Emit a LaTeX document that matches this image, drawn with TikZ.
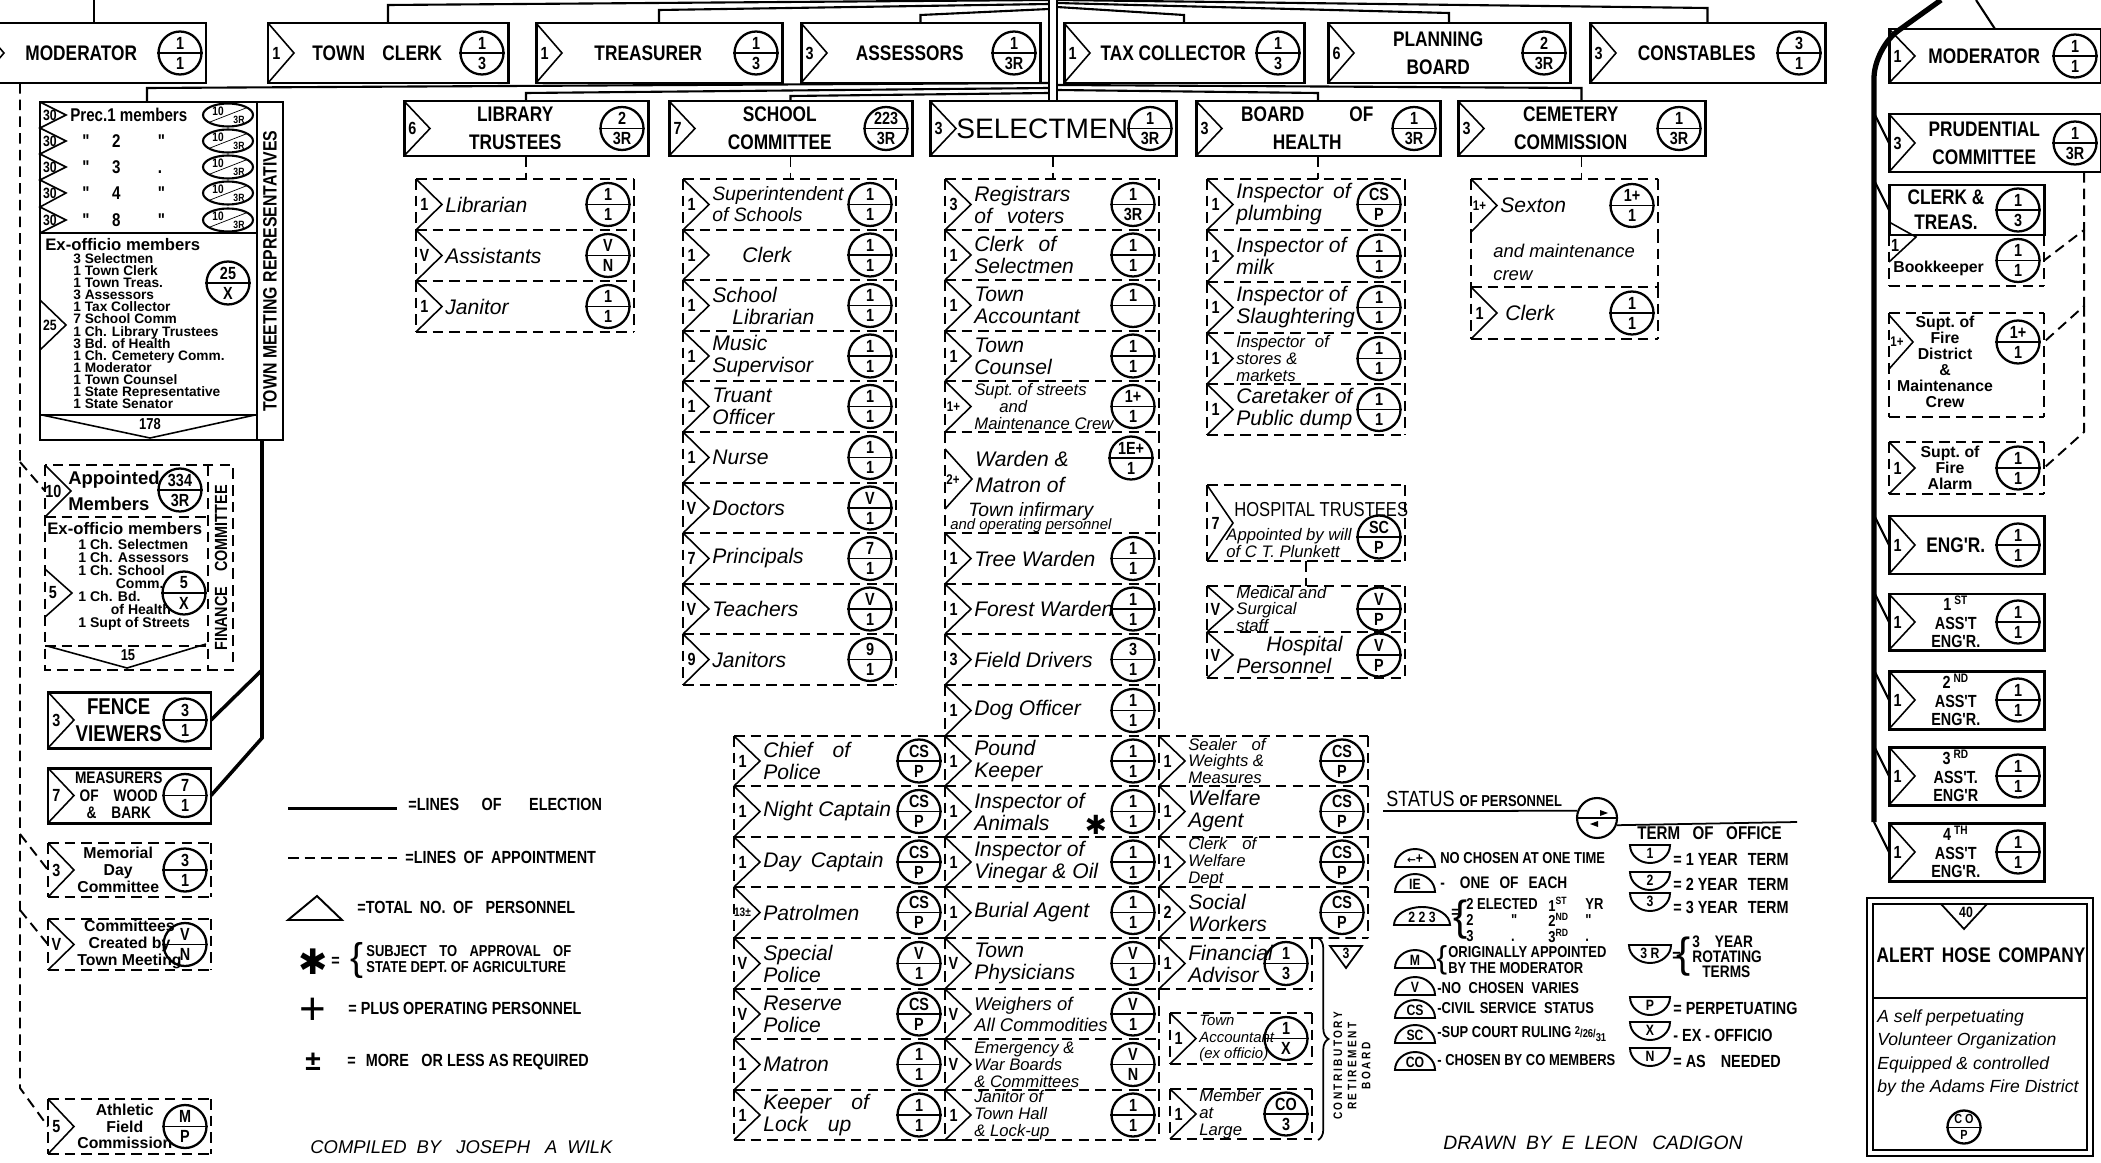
\documentclass[tikz,border=0pt]{standalone}
\usepackage{fontspec}
\setmainfont{Liberation Sans}
\newfontfamily\lettering{Liberation Sans}[FakeStretch=0.82]
\newfontfamily\symbolfont{DejaVu Sans}
\usepackage{tikz}
\usetikzlibrary{positioning,calc,fit,decorations.pathreplacing}
\lineskiplimit=-20pt

\tikzset{
  unit/.style={inner sep=0pt, outer sep=0pt},
  elected/.style={draw, line width=1.7pt},
  appointed/.style={line width=1.1pt, dash pattern=on 6pt off 3.5pt},
  chevline/.style={line width=0.9pt},
  link/.style={line width=1.2pt},
  trunk/.style={line width=3pt},
  headcount/.style={inner sep=0pt, font=\lettering\bfseries\fontsize{10}{10}\selectfont},
  seal/.style={circle, draw, line width=1.3pt, minimum size=0.86cm, inner sep=0pt},
  sealtext/.style={inner sep=0pt, font=\lettering\bfseries\fontsize{10}{10}\selectfont},
  title/.style={inner sep=0pt, align=center, font=\lettering\bfseries\fontsize{12}{16}\selectfont},
  job/.style={inner sep=0pt, anchor=west, align=left, font=\itshape\fontsize{12}{12.5}\selectfont},
  jobsmall/.style={font=\itshape\fontsize{9.5}{9.6}\selectfont},
  hand/.style={align=center, font=\bfseries\fontsize{9}{9.5}\selectfont},
  legendtext/.style={inner sep=0pt, anchor=west, align=left, font=\lettering\bfseries\fontsize{10}{10}\selectfont},
  domeline/.style={line width=1.1pt},
}

% circle with status above the line and term below
\newcommand{\officeseal}[4]{%
  \node[seal] (#1) at (#2) {};
  \draw[line width=1pt] (#1.west) -- (#1.east);
  \node[sealtext] (#1t) at ([yshift=0.2cm]#1.center) {#3};
  \node[sealtext] (#1b) at ([yshift=-0.2cm]#1.center) {#4};
}
% notch on the left side with the number of persons
\newcommand{\officenotch}[2]{%
  \draw[chevline] (#1.north west) -- ([xshift=0.52cm]#1.west) -- (#1.south west);
  \node[headcount] (#1c) at ([xshift=0.17cm]#1.west) {#2};
}
% [title opts]{name}{nw}{se}{count}{status}{term}{title}
\newcommand{\electedpost}[8][]{%
  \node[unit, elected, fit={(#3)(#4)}] (#2) {};
  \officenotch{#2}{#5}
  \officeseal{#2s}{[xshift=-0.52cm]#2.east}{#6}{#7}
  \node[title, #1] (#2t) at ($([xshift=0.52cm]#2.west)!0.5!([xshift=-0.95cm]#2.east)$) {#8};
}
% [text opts]{name}{nw}{se}{count}{status}{term}{text}, bottom edge left open
\newcommand{\appointedpost}[8][]{%
  \node[unit, fit={(#3)(#4)}] (#2) {};
  \draw[appointed] (#2.north west) -- (#2.south west) (#2.north east) -- (#2.south east) (#2.north west) -- (#2.north east);
  \officenotch{#2}{#5}
  \officeseal{#2s}{[xshift=-0.52cm]#2.east}{#6}{#7}
  \node[job, #1] (#2t) at ([xshift=0.58cm]#2.west) {#8};
}
\newcommand{\statusdome}[4]{%
  \draw[domeline] (#2) ++(-#3,0) arc[start angle=180, end angle=0, x radius=#3*0.02cm, y radius=0.36cm] -- cycle;
  \node[sealtext, font=\lettering\bfseries\fontsize{8.5}{8.5}\selectfont] (#1) at ($(#2)+(0,-8)$) {#4};
}
\newcommand{\termdome}[4]{%
  \draw[domeline] (#2) ++(-#3,0) arc[start angle=180, end angle=360, x radius=#3*0.02cm, y radius=0.36cm] -- cycle;
  \node[sealtext, font=\lettering\bfseries\fontsize{8.5}{8.5}\selectfont] (#1) at ($(#2)+(0,8)$) {#4};
}

\begin{document}
\begin{tikzpicture}[x=0.02cm, y=-0.02cm]
\useasboundingbox (0,0) rectangle (2101,1162);
\clip (0,0) rectangle (2101,1162);

% elected by the town, top row
\electedpost{modl}{-22,23}{206,83}{}{1}{1}{MODERATOR}
\electedpost{clerk}{268,23}{508,83}{1}{1}{3}{TOWN\hspace{0.35cm}CLERK}
\electedpost{treas}{536,23}{782,83}{1}{1}{3}{TREASURER}
\electedpost{assess}{801,23}{1040,83}{3}{1}{3R}{ASSESSORS}
\electedpost{taxcol}{1064,23}{1304,83}{1}{1}{3}{TAX COLLECTOR}
\electedpost{planning}{1328,23}{1570,83}{6}{2}{3R}{PLANNING\\BOARD}
\electedpost{constables}{1590,23}{1825,83}{3}{3}{1}{CONSTABLES}
\electedpost{modr}{1889,29}{2101,83}{1}{1}{1}{MODERATOR}

% second row
\electedpost{library}{404,101}{648,156}{6}{2}{3R}{LIBRARY\\TRUSTEES}
\electedpost{school}{669,101}{912,156}{7}{223}{3R}{SCHOOL\\COMMITTEE}
\electedpost[font=\fontsize{16}{16}\selectfont]{selectmen}{930,101}{1176,156}{3}{1}{3R}{SELECTMEN}
\electedpost{health}{1196,101}{1440,156}{3}{1}{3R}{BOARD\hspace{0.9cm}OF\\HEALTH}
\electedpost{cemetery}{1458,101}{1705,156}{3}{1}{3R}{CEMETERY\\COMMISSION}

% lines of election
\coordinate (hubw) at (1049,0);
\coordinate (hube) at (1057,0);
\coordinate (modltop) at (94,0);
\draw[link] (hubw) -- (hubw |- selectmen.north);
\draw[link] (hube) -- (hube |- selectmen.north);
\draw[link] (modltop) -- (modltop |- modl.north);
\draw[link] (clerk.north) -- ++(0,-18) -- (hubw);
\draw[link] (treas.north) -- ++(0,-13) -- ($(hubw)+(0,4)$);
\draw[link] (assess.north) -- ++(0,-8) -- ($(hubw)+(0,9)$);
\draw[link] (taxcol.north) -- ++(0,-8) -- ($(hube)+(0,7)$);
\draw[link] (planning.north) -- ++(0,-10) -- ($(hube)+(0,3)$);
\draw[link] (constables.north) -- ++(0,-15) -- (hube);
\draw[link] (library.north) -- ++(0,-8) -- ($(hubw)+(0,88)$);
\draw[link] (school.north) -- ++(0,-5) -- ($(hubw)+(0,93)$);
\draw[link] (health.north) -- ++(0,-8) -- ($(hube)+(0,90)$);
\draw[link] (cemetery.north) -- ++(0,-13) -- ($(hube)+(0,85)$);

% town meeting representatives
\node[unit, elected, fit={(40,102)(283,440)}] (tmr) {};
\draw[link] ([xshift=-0.29cm]tmr.north) -- ++(0,-14) -- ($(hubw)+(0,83)$);
\draw[elected] (257,102) -- (257,440);
\draw[elected] (40,233) -- (257,233);
\draw[elected] (40,415) -- (257,415);
\node[rotate=90, inner sep=0pt, font=\lettering\bfseries\fontsize{11}{11}\selectfont] (tmrlabel) at (270,271) {TOWN MEETING REPRESENTATIVES};
\draw[chevline] (40,102) -- (66,115) -- (40,128) -- (66,141) -- (40,154) -- (66,167) -- (40,180) -- (66,193) -- (40,207) -- (66,220) -- (40,233);
\node[headcount, font=\lettering\bfseries\fontsize{8.5}{8.5}\selectfont] (tmrc1) at (50,115) {30};
\node[headcount, font=\lettering\bfseries\fontsize{8.5}{8.5}\selectfont] (tmrc2) at (50,141) {30};
\node[headcount, font=\lettering\bfseries\fontsize{8.5}{8.5}\selectfont] (tmrc3) at (50,167) {30};
\node[headcount, font=\lettering\bfseries\fontsize{8.5}{8.5}\selectfont] (tmrc4) at (50,193) {30};
\node[headcount, font=\lettering\bfseries\fontsize{8.5}{8.5}\selectfont] (tmrc5) at (50,220) {30};
\node[anchor=west, inner sep=0pt, font=\lettering\bfseries\fontsize{10.5}{10.5}\selectfont] (prec1) at (70,115) {Prec.1 members};
\node[anchor=west, inner sep=0pt, font=\lettering\bfseries\fontsize{10.5}{10.5}\selectfont] (prec2) at (82,141) {"\hspace{0.45cm}2\hspace{0.75cm}"};
\node[anchor=west, inner sep=0pt, font=\lettering\bfseries\fontsize{10.5}{10.5}\selectfont] (prec3) at (82,167) {"\hspace{0.45cm}3\hspace{0.75cm}.};
\node[anchor=west, inner sep=0pt, font=\lettering\bfseries\fontsize{10.5}{10.5}\selectfont] (prec4) at (82,193) {"\hspace{0.45cm}4\hspace{0.75cm}"};
\node[anchor=west, inner sep=0pt, font=\lettering\bfseries\fontsize{10.5}{10.5}\selectfont] (prec5) at (82,220) {"\hspace{0.45cm}8\hspace{0.75cm}"};
\draw[line width=1.2pt] (228,115) ellipse [x radius=0.5cm, y radius=0.23cm];
\draw[line width=1.2pt] (228,141) ellipse [x radius=0.5cm, y radius=0.23cm];
\draw[line width=1.2pt] (228,167) ellipse [x radius=0.5cm, y radius=0.23cm];
\draw[line width=1.2pt] (228,193) ellipse [x radius=0.5cm, y radius=0.23cm];
\draw[line width=1.2pt] (228,220) ellipse [x radius=0.5cm, y radius=0.23cm];
\draw (210,122) -- (246,108) (210,148) -- (246,134) (210,174) -- (246,160) (210,200) -- (246,186) (210,227) -- (246,213);
\node[sealtext, font=\lettering\bfseries\fontsize{7}{7}\selectfont] (ov1a) at (218,111) {10};
\node[sealtext, font=\lettering\bfseries\fontsize{6}{6}\selectfont] (ov1b) at (239,120) {3R};
\node[sealtext, font=\lettering\bfseries\fontsize{7}{7}\selectfont] (ov2a) at (218,137) {10};
\node[sealtext, font=\lettering\bfseries\fontsize{6}{6}\selectfont] (ov2b) at (239,146) {3R};
\node[sealtext, font=\lettering\bfseries\fontsize{7}{7}\selectfont] (ov3a) at (218,163) {10};
\node[sealtext, font=\lettering\bfseries\fontsize{6}{6}\selectfont] (ov3b) at (239,172) {3R};
\node[sealtext, font=\lettering\bfseries\fontsize{7}{7}\selectfont] (ov4a) at (218,189) {10};
\node[sealtext, font=\lettering\bfseries\fontsize{6}{6}\selectfont] (ov4b) at (239,198) {3R};
\node[sealtext, font=\lettering\bfseries\fontsize{7}{7}\selectfont] (ov5a) at (218,216) {10};
\node[sealtext, font=\lettering\bfseries\fontsize{6}{6}\selectfont] (ov5b) at (239,225) {3R};
\node[anchor=west, inner sep=0pt, font=\bfseries\fontsize{9.5}{9.5}\selectfont] (tmrex) at (45,245) {Ex-officio members};
\node[anchor=north west, inner sep=0pt, align=left, font=\bfseries\fontsize{7.8}{6.9}\selectfont] (tmrlist) at (73,253) {3 Selectmen\\1 Town Clerk\\1 Town Treas.\\3 Assessors\\1 Tax Collector\\7 School Comm\\1 Ch. Library Trustees\\3 Bd. of Health\\1 Ch. Cemetery Comm.\\1 Moderator\\1 Town Counsel\\1 State Representative\\1 State Senator};
\officeseal{tmrseal}{228,283}{25}{X}
\draw[chevline] (40,300) -- (66,325) -- (40,350);
\node[headcount, font=\lettering\bfseries\fontsize{8.5}{8.5}\selectfont] (tmrexc) at (50,325) {25};
\draw[chevline] (42,415) -- (150,438) -- (255,415);
\node[sealtext, font=\lettering\bfseries\fontsize{9}{9}\selectfont] (tmrtotal) at (150,424) {178};

% finance committee
\node[unit, fit={(45,465)(233,670)}] (finance) {};
\draw[appointed] (finance.north west) rectangle (finance.south east);
\draw[appointed] (208,465) -- (208,670);
\draw[appointed] (45,517) -- (208,517);
\draw[appointed] (45,646) -- (208,646);
\node[rotate=90, inner sep=0pt, font=\lettering\bfseries\fontsize{10}{10}\selectfont] (finlabel) at (221,568) {FINANCE\hspace{0.3cm}COMMITTEE};
\node[unit, fit={(45,465)(208,517)}] (finapp) {};
\officenotch{finapp}{10}
\node[anchor=west, inner sep=0pt, align=left, font=\bfseries\fontsize{10.5}{15}\selectfont] (finappt) at (68,491) {Appointed\\Members};
\officeseal{finapps}{180,490}{334}{3R}
\node[anchor=west, inner sep=0pt, font=\bfseries\fontsize{9.5}{9.5}\selectfont] (finex) at (47,529) {Ex-officio members};
\node[anchor=north west, inner sep=0pt, align=left, font=\bfseries\fontsize{8}{7.4}\selectfont] (finlist) at (78,539) {1 Ch. Selectmen\\1 Ch. Assessors\\1 Ch. School\\\hspace{0.75cm}Comm.\\1 Ch. Bd.\\\hspace{0.65cm}of Health\\1 Supt of Streets};
\draw[chevline] (45,569) -- (72,593) -- (45,617);
\node[headcount] (finexc) at (53,593) {5};
\officeseal{finexs}{184,593}{5}{X}
\draw[chevline] (47,646) -- (127,668) -- (206,644);
\node[sealtext, font=\lettering\bfseries\fontsize{9}{9}\selectfont] (fintotal) at (128,655) {15};

% boards chosen at town meeting, left column
\electedpost[font=\lettering\bfseries\fontsize{13}{15}\selectfont]{fence}{48,692}{211,748}{3}{3}{1}{FENCE\\VIEWERS}
\electedpost[font=\lettering\bfseries\fontsize{9.5}{10}\selectfont]{measurers}{48,768}{211,823}{7}{7}{1}{MEASURERS\\OF\hspace{0.3cm}WOOD\\\&\hspace{0.3cm}BARK}
\coordinate (tmrfoot) at ($(tmr.south east)+(-21,0)$);
\draw[line width=2pt] (tmrfoot) -- ++(0,230) coordinate (tmrknee) -- (fence.east);
\draw[line width=2pt] (tmrknee) -- ++(0,68) -- (measurers.east);
\appointedpost[hand]{memorial}{48,843}{211,897}{3}{3}{1}{Memorial\\Day\\Committee}
\draw[appointed] (memorial.south west) -- (memorial.south east);
\appointedpost[hand]{townmtg}{48,919}{211,970}{V}{V}{N}{Committees\\Created by\\Town Meeting}
\draw[appointed] (townmtg.south west) -- (townmtg.south east);
\appointedpost[hand]{athletic}{48,1099}{211,1154}{5}{M}{P}{Athletic\\Field\\Commission}
\draw[appointed] (athletic.south west) -- (athletic.south east);
\coordinate (apptop) at (20,83);
\coordinate (appfin) at (20,462);
\coordinate (appmem) at (20,834);
\coordinate (appcom) at (20,910);
\coordinate (appfoot) at (20,1088);
\draw[appointed] (apptop) -- (appfoot) -- (athletic.west);
\draw[appointed] (appfin) -- (finapp.west);
\draw[appointed] (appmem) -- (memorial.west);
\draw[appointed] (appcom) -- (townmtg.west);

% library trustees
\appointedpost{librarian}{416,179}{634,230}{1}{1}{1}{Librarian}
\appointedpost{assistants}{416,230}{634,281}{V}{V}{N}{Assistants}
\appointedpost{libjanitor}{416,281}{634,332}{1}{1}{1}{Janitor}
\draw[appointed] (libjanitor.south west) -- (libjanitor.south east);
\draw[appointed] (library.south) -- (library.south |- librarian.north);

% school committee
\appointedpost[font=\itshape\fontsize{11}{12}\selectfont]{supt}{683,179}{896,230}{1}{1}{1}{Superintendent\\of Schools}
\appointedpost{sclerk}{683,230}{896,280}{1}{1}{1}{\hspace{0.6cm}Clerk}
\appointedpost{slibrarian}{683,280}{896,331}{1}{1}{1}{School\\\hspace{0.4cm}Librarian}
\appointedpost{music}{683,331}{896,381}{1}{1}{1}{Music\\Supervisor}
\appointedpost{truant}{683,381}{896,432}{1}{1}{1}{Truant\\Officer}
\appointedpost{nurse}{683,432}{896,483}{1}{1}{1}{Nurse}
\appointedpost{doctors}{683,483}{896,533}{V}{V}{1}{Doctors}
\appointedpost{principals}{683,533}{896,584}{7}{7}{1}{Principals}
\appointedpost{teachers}{683,584}{896,634}{V}{V}{1}{Teachers}
\appointedpost{sjanitors}{683,634}{896,685}{9}{9}{1}{Janitors}
\draw[appointed] (sjanitors.south west) -- (sjanitors.south east);
\draw[appointed] (school.south) -- (school.south |- supt.north);

% selectmen
\appointedpost{registrars}{945,179}{1159,230}{3}{1}{3R}{Registrars\\of\hspace{0.3cm}voters}
\appointedpost{selclerk}{945,230}{1159,280}{1}{1}{1}{Clerk\hspace{0.3cm}of\\Selectmen}
\appointedpost{accountant}{945,280}{1159,331}{1}{1}{}{Town\\Accountant}
\appointedpost{counsel}{945,331}{1159,381}{1}{1}{1}{Town\\Counsel}
\appointedpost[jobsmall]{streets}{945,381}{1159,432}{{\fontsize{8}{8}\selectfont 1+}}{1+}{1}{Supt.\ of streets\\\hspace{0.5cm}and\\Maintenance Crew}
\node[unit, fit={(945,432)(1159,533)}] (warden) {};
\draw[appointed] (warden.north west) -- (warden.south west) (warden.north east) -- (warden.south east) (warden.north west) -- (warden.north east);
\draw[chevline] (945,449) -- (972,479) -- (945,509);
\node[headcount, font=\lettering\bfseries\fontsize{8}{8}\selectfont] (wardenc) at (953,480) {2+};
\officeseal{wardens}{1131,458}{1E+}{1}
\node[job, font=\itshape\fontsize{12}{14.5}\selectfont] (wardent) at (975,472) {Warden \&\\Matron of};
\node[job, font=\itshape\fontsize{11}{11}\selectfont] (wardent2) at (968,511) {Town infirmary};
\node[job, font=\itshape\fontsize{8.5}{8.5}\selectfont] (wardent3) at (950,526) {and operating personnel};
\appointedpost{treewarden}{945,533}{1159,584}{1}{1}{1}{Tree Warden}
\appointedpost{forestwarden}{945,584}{1159,634}{1}{1}{1}{Forest Warden}
\appointedpost{fielddrivers}{945,634}{1159,685}{3}{3}{1}{Field Drivers}
\appointedpost{dogofficer}{945,685}{1159,736}{1}{1}{1}{Dog Officer}
\appointedpost{poundkeeper}{945,736}{1159,786}{1}{1}{1}{Pound\\Keeper}
\appointedpost{animals}{945,786}{1159,837}{1}{1}{1}{Inspector of\\Animals}
\node[inner sep=0pt, font=\symbolfont\fontsize{15}{15}\selectfont] (animalsmark) at (1096,825) {✱};
\appointedpost{vinegar}{945,837}{1159,887}{1}{1}{1}{Inspector of\\Vinegar \& Oil}
\appointedpost{burial}{945,887}{1159,938}{1}{1}{1}{Burial Agent}
\appointedpost{physicians}{945,938}{1159,989}{V}{V}{1}{Town\\Physicians}
\appointedpost[font=\itshape\fontsize{10.5}{12}\selectfont]{weighers}{945,989}{1159,1039}{V}{V}{1}{Weighers of\\All Commodities}
\appointedpost[jobsmall]{emergency}{945,1039}{1159,1090}{V}{V}{N}{Emergency \&\\War Boards\\\& Committees}
\appointedpost[jobsmall]{townhall}{945,1090}{1159,1140}{1}{1}{1}{Janitor of\\Town Hall\\\& Lock-up}
\draw[appointed] (townhall.south west) -- (townhall.south east);
\draw[appointed] (selectmen.south) -- (selectmen.south |- registrars.north);

% police
\appointedpost{chief}{734,736}{945,786}{1}{CS}{P}{Chief\hspace{0.4cm}of\\Police}
\appointedpost{nightcapt}{734,786}{945,837}{1}{CS}{P}{Night Captain}
\appointedpost{daycapt}{734,837}{945,887}{1}{CS}{P}{Day\hspace{0.2cm}Captain}
\appointedpost{patrolmen}{734,887}{945,938}{{\fontsize{7}{7}\selectfont 13±}}{CS}{P}{Patrolmen}
\appointedpost{special}{734,938}{945,989}{V}{V}{1}{Special\\Police}
\appointedpost{reserve}{734,989}{945,1039}{V}{CS}{P}{Reserve\\Police}
\appointedpost{matron}{734,1039}{945,1090}{1}{1}{1}{Matron}
\appointedpost{lockup}{734,1090}{945,1140}{1}{1}{1}{Keeper\hspace{0.4cm}of\\Lock\hspace{0.4cm}up}
\draw[appointed] (lockup.south west) -- (lockup.south east);

% welfare and the retirement board
\appointedpost[jobsmall]{sealer}{1159,736}{1368,786}{1}{CS}{P}{Sealer\hspace{0.3cm}of\\Weights \&\\Measures}
\appointedpost{welfareagent}{1159,786}{1368,837}{1}{CS}{P}{Welfare\\Agent}
\appointedpost[jobsmall]{welfareclerk}{1159,837}{1368,887}{1}{CS}{P}{Clerk\hspace{0.3cm}of\\Welfare\\Dept}
\appointedpost{social}{1159,887}{1368,938}{2}{CS}{P}{Social\\Workers}
\appointedpost{advisor}{1159,938}{1312,989}{1}{1}{3}{Financial\\Advisor}
\draw[appointed] (advisor.north east) -- (social.south east);
\draw[appointed] (advisor.south west) -- (advisor.south east);
\appointedpost[font=\itshape\fontsize{8.5}{9.4}\selectfont]{exaccountant}{1170,1013}{1312,1064}{1}{1}{X}{Town\\Accountant\\(ex officio)}
\draw[appointed] (exaccountant.south west) -- (exaccountant.south east);
\appointedpost[jobsmall]{atlarge}{1170,1089}{1312,1139}{1}{CO}{3}{Member\\at\\Large}
\draw[appointed] (atlarge.south west) -- (atlarge.south east);
\draw[line width=1pt, decorate, decoration={brace, amplitude=6pt}] (1318,938) -- (1318,1140);
\draw[line width=1pt] (1330,946) -- (1362,946) -- (1346,968) -- cycle;
\node[sealtext, font=\lettering\bfseries\fontsize{8.5}{8.5}\selectfont] (boardtotal) at (1346,953) {3};
\node[rotate=90, inner sep=0pt, align=center, font=\lettering\bfseries\fontsize{7}{8}\selectfont\addfontfeature{LetterSpace=20}] (boardlabel) at (1352,1066) {CONTRIBUTORY\\RETIREMENT\\BOARD};

% board of health
\appointedpost{plumbing}{1207,179}{1405,230}{1}{CS}{P}{Inspector\hspace{0.2cm}of\\plumbing}
\appointedpost{milk}{1207,230}{1405,282}{1}{1}{1}{Inspector of\\milk}
\appointedpost{slaughter}{1207,282}{1405,333}{1}{1}{1}{Inspector of\\Slaughtering}
\appointedpost[jobsmall]{stores}{1207,333}{1405,384}{1}{1}{1}{Inspector\hspace{0.2cm}of\\stores \&\\markets}
\appointedpost{dump}{1207,384}{1405,435}{1}{1}{1}{Caretaker of\\Public dump}
\draw[appointed] (dump.south west) -- (dump.south east);
\draw[appointed] (health.south) -- (health.south |- plumbing.north);

% hospital trustees
\node[unit, fit={(1207,485)(1405,561)}] (hospital) {};
\draw[appointed] (hospital.north west) -- (hospital.south west) (hospital.north east) -- (hospital.south east) (hospital.north west) -- (hospital.north east) (hospital.south west) -- (hospital.south east);
\officenotch{hospital}{7}
\officeseal{hospitals}{1379,537}{SC}{P}
\node[anchor=west, inner sep=0pt, font=\lettering\fontsize{11.5}{11.5}\selectfont] (hospitalt) at (1234,510) {HOSPITAL TRUSTEES};
\node[job, font=\itshape\fontsize{9.5}{9.2}\selectfont] (hospitalw) at (1226,543) {Appointed by will\\of C T. Plunkett};
\appointedpost[jobsmall]{medical}{1207,586}{1405,632}{V}{V}{P}{Medical and\\Surgical\\staff}
\appointedpost{hpersonnel}{1207,632}{1405,678}{V}{V}{P}{\hspace{0.6cm}Hospital\\Personnel}
\draw[appointed] (hpersonnel.south west) -- (hpersonnel.south east);
\draw[appointed] (hospital.south) -- (medical.north);

% cemetery commission
\appointedpost{sexton}{1471,179}{1658,232}{{\fontsize{8}{8}\selectfont 1+}}{1+}{1}{Sexton}
\node[unit, fit={(1471,232)(1658,287)}] (crew) {};
\draw[appointed] (crew.north west) -- (crew.south west) (crew.north east) -- (crew.south east);
\node[job, font=\itshape\fontsize{10.5}{13}\selectfont] (crewt) at (1493,262) {and maintenance\\crew};
\appointedpost{cemclerk}{1471,287}{1658,339}{1}{1}{1}{\hspace{0.1cm}Clerk}
\draw[appointed] (cemclerk.south west) -- (cemclerk.south east);
\draw[appointed] (cemetery.south) -- (cemetery.south |- sexton.north);

% fire district, right column
\electedpost{prudential}{1889,114}{2101,172}{3}{1}{3R}{PRUDENTIAL\\COMMITTEE}
\node[unit, elected, fit={(1889,185)(2044,235)}] (clktreas) {};
\officeseal{clktreass}{[xshift=-0.52cm]clktreas.east}{1}{3}
\node[title, font=\lettering\bfseries\fontsize{12}{14}\selectfont] (clktreast) at (1946,210) {CLERK \&\\TREAS.};
\node[unit, fit={(1889,235)(2044,286)}] (bookkeeper) {};
\draw[appointed] (bookkeeper.north west) -- (bookkeeper.south west) (bookkeeper.north east) -- (bookkeeper.south east) (bookkeeper.south west) -- (bookkeeper.south east);
\draw[chevline] (1889,222) -- (1916,237) -- (1889,262);
\node[headcount] (bookkeeperc) at (1895,245) {1};
\officeseal{bookkeepers}{[xshift=-0.52cm]bookkeeper.east}{1}{1}
\node[anchor=west, inner sep=0pt, font=\bfseries\fontsize{9}{9}\selectfont] (bookkeepert) at (1893,268) {Bookkeeper};
\node[unit, fit={(1889,313)(2044,417)}] (firedist) {};
\draw[appointed] (firedist.north west) -- (firedist.south west) (firedist.north east) -- (firedist.south east) (firedist.north west) -- (firedist.north east) (firedist.south west) -- (firedist.south east);
\draw[chevline] (1889,315) -- (1913,342) -- (1889,369);
\node[headcount, font=\lettering\bfseries\fontsize{8}{8}\selectfont] (firedistc) at (1897,342) {1+};
\officeseal{firedists}{2018,342}{1+}{1}
\node[anchor=north, inner sep=0pt, align=center, font=\bfseries\fontsize{9}{9.1}\selectfont] (firedistt) at (1945,316) {Supt.\ of\\Fire\\District\\\&\\Maintenance\\Crew};
\node[unit, fit={(1889,442)(2044,494)}] (firealarm) {};
\draw[appointed] (firealarm.north west) -- (firealarm.south west) (firealarm.north east) -- (firealarm.south east) (firealarm.north west) -- (firealarm.north east) (firealarm.south west) -- (firealarm.south east);
\officenotch{firealarm}{1}
\officeseal{firealarms}{[xshift=-0.52cm]firealarm.east}{1}{1}
\node[inner sep=0pt, align=center, font=\bfseries\fontsize{9}{9.1}\selectfont] (firealarmt) at (1950,468) {Supt.\ of\\Fire\\Alarm};
\electedpost{engr}{1889,516}{2044,574}{1}{1}{1}{ENG'R.}
\electedpost[font=\lettering\bfseries\fontsize{10}{10.5}\selectfont]{asstone}{1889,594}{2044,650}{1}{1}{1}{1\,\textsuperscript{ST}\\ASS'T\\ENG'R.}
\electedpost[font=\lettering\bfseries\fontsize{10}{10.5}\selectfont]{assttwo}{1889,671}{2044,729}{1}{1}{1}{2\,\textsuperscript{ND}\\ASS'T\\ENG'R.}
\electedpost[font=\lettering\bfseries\fontsize{10}{10.5}\selectfont]{asstthree}{1889,747}{2044,805}{1}{1}{1}{3\,\textsuperscript{RD}\\ASS'T.\\ENG'R}
\electedpost[font=\lettering\bfseries\fontsize{10}{10.5}\selectfont]{asstfour}{1889,823}{2044,881}{1}{1}{1}{4\,\textsuperscript{TH}\\ASS'T\\ENG'R.}
\coordinate (firetop) at (1941,0);
\coordinate (spine) at (1874,48);
\coordinate (spinefoot) at (1874,822);
\coordinate (modrtop) at (1976,0);
\draw[trunk, rounded corners=0.6cm] (firetop) -- (spine) -- (spinefoot);
\draw[link] (modrtop) -- (modr.north);
\draw[link] ($(spine |- prudential.west)+(0,-30)$) -- (prudential.west);
\draw[link] ($(spine |- clktreas.west)+(0,-30)$) -- (clktreas.west);
\draw[link] ($(spine |- engr.west)+(0,-30)$) -- (engr.west);
\draw[link] ($(spine |- asstone.west)+(0,-30)$) -- (asstone.west);
\draw[link] ($(spine |- assttwo.west)+(0,-30)$) -- (assttwo.west);
\draw[link] ($(spine |- asstthree.west)+(0,-30)$) -- (asstthree.west);
\draw[link] ($(spine |- asstfour.west)+(0,-30)$) -- (asstfour.west);
\coordinate (prudfoot) at ($(prudential.south east)+(-17,0)$);
\draw[appointed] (prudfoot) -- ++(0,58) coordinate (prudk1) -- (bookkeeper.east);
\draw[appointed] (prudk1) -- ++(0,76) coordinate (prudk2) -- ([yshift=0.46cm]firedist.east);
\draw[appointed] (prudk2) -- ++(0,126) -- (firealarm.east);

% alert hose company
\node[unit, fit={(1867,898)(2093,1156)}] (hose) {};
\draw[line width=1.3pt] (hose.north west) rectangle (hose.south east);
\draw[line width=1.3pt] ([shift={(0.12cm,-0.12cm)}]hose.north west) rectangle ([shift={(-0.12cm,0.12cm)}]hose.south east);
\draw[line width=1pt] (1941,904) -- (1987,904) -- (1964,929) -- cycle;
\node[sealtext, font=\lettering\bfseries\fontsize{8.5}{8.5}\selectfont] (hosetotal) at (1966,912) {40};
\node[inner sep=0pt, font=\lettering\bfseries\fontsize{12}{12}\selectfont] (hosename) at (1981,955) {ALERT\hspace{0.15cm}HOSE\hspace{0.15cm}COMPANY};
\draw[line width=1pt] (1873,998) -- (2087,998);
\node[job, font=\itshape\fontsize{10}{13.3}\selectfont] (hosenote) at (1877,1053) {A self perpetuating\\Volunteer Organization\\Equipped \& controlled\\by the Adams Fire District};
\node[seal, minimum size=0.66cm] (hoses) at (1964,1127) {};
\draw (hoses.west) -- (hoses.east);
\node[sealtext, font=\lettering\bfseries\fontsize{7.5}{7.5}\selectfont] (hosest) at (1964,1119) {C O};
\node[sealtext, font=\lettering\bfseries\fontsize{7.5}{7.5}\selectfont] (hosesb) at (1964,1135) {P};

% key to lines and marks
\draw[line width=1.7pt] (288,808) -- (397,808);
\node[legendtext] (keyelect) at (408,804) {=LINES\hspace{0.45cm}OF\hspace{0.55cm}ELECTION};
\draw[appointed] (288,858) -- (397,858);
\node[legendtext] (keyappoint) at (405,857) {=LINES\hspace{0.15cm}OF\hspace{0.15cm}APPOINTMENT};
\draw[line width=1.1pt] (288,920) -- (342,920) -- (317,896) -- cycle;
\node[legendtext] (keytotal) at (357,907) {=TOTAL\hspace{0.15cm}NO.\hspace{0.15cm}OF\hspace{0.25cm}PERSONNEL};
\node[inner sep=0pt, font=\symbolfont\fontsize{20}{20}\selectfont] (keystar) at (313,962) {✱};
\node[legendtext] (keystareq) at (331,962) {=};
\node[inner sep=0pt, font=\fontsize{22}{22}\selectfont] (keystarbrace) at (357,960) {\{};
\node[legendtext, font=\lettering\bfseries\fontsize{9}{9.5}\selectfont] (keystartext) at (366,959) {SUBJECT\hspace{0.25cm}TO\hspace{0.25cm}APPROVAL\hspace{0.25cm}OF\\STATE DEPT. OF AGRICULTURE};
\node[inner sep=0pt, font=\fontsize{26}{26}\selectfont] (keyplus) at (313,1011) {+};
\node[legendtext] (keyplustext) at (348,1008) {= PLUS OPERATING PERSONNEL};
\node[inner sep=0pt, font=\bfseries\fontsize{16}{16}\selectfont] (keypm) at (313,1062) {±};
\node[legendtext] (keypmtext) at (347,1062) {=\hspace{0.2cm}MORE\hspace{0.25cm}OR LESS AS REQUIRED};
\node[anchor=west, inner sep=0pt, font=\itshape\fontsize{10.5}{10.5}\selectfont] (compiled) at (310,1147) {COMPILED\hspace{0.2cm}BY\hspace{0.3cm}JOSEPH\hspace{0.3cm}A\hspace{0.2cm}WILK};

% key to status and term
\node[anchor=base west, inner sep=0pt, font=\lettering\fontsize{12.5}{12.5}\selectfont] (statushead) at (1386,806) {STATUS {\bfseries\fontsize{9}{9}\selectfont OF PERSONNEL}};
\node[circle, draw, line width=1.2pt, minimum size=0.8cm, inner sep=0pt] (statkey) at (1597,818) {};
\draw[line width=1pt] (statkey.west) -- (statkey.east);
\draw[line width=1pt] (1383,811) -- (statkey.160);
\draw[line width=1pt] (statkey.-20) -- (1797,822);
\fill (1600,810) -- (1608,813) -- (1600,816) -- cycle;
\fill (1598,821) -- (1590,824) -- (1598,827) -- cycle;
\node[legendtext, font=\lettering\bfseries\fontsize{10.5}{10.5}\selectfont] (termhead) at (1637,833) {TERM\hspace{0.25cm}OF\hspace{0.25cm}OFFICE};
\statusdome{stone}{1415,867}{20}{{\symbolfont\fontsize{6}{6}\selectfont ←}+}
\node[legendtext, font=\lettering\bfseries\fontsize{9}{9}\selectfont] (stonet) at (1440,858) {NO CHOSEN AT ONE TIME};
\statusdome{steach}{1415,892}{20}{IE}
\node[legendtext, font=\lettering\bfseries\fontsize{9.5}{9.5}\selectfont] (steacht) at (1440,883) {-\hspace{0.3cm}ONE\hspace{0.2cm}OF\hspace{0.2cm}EACH};
\statusdome{stsplit}{1422,925}{28}{2 2 3}
\node[legendtext, font=\lettering\bfseries\fontsize{9}{9}\selectfont] (stspliteq) at (1451,913) {=};
\node[inner sep=0pt, font=\fontsize{24}{24}\selectfont] (stsplitbrace) at (1461,920) {\{};
\node[legendtext, font=\lettering\bfseries\fontsize{9}{9}\selectfont] (stsplitt) at (1466,920) {2 ELECTED\\2\hspace{0.75cm}"\\3\hspace{0.75cm}.};
\node[legendtext, font=\lettering\bfseries\fontsize{9}{9}\selectfont] (stsplityr) at (1548,920) {1\textsuperscript{ST}\\2\textsuperscript{ND}\\3\textsuperscript{RD}};
\node[legendtext, font=\lettering\bfseries\fontsize{9}{9}\selectfont] (stsplitend) at (1585,920) {YR\\"\\.};
\statusdome{stmod}{1415,968}{20}{M}
\node[inner sep=0pt, font=\fontsize{18}{18}\selectfont] (stmodbrace) at (1442,960) {\{};
\node[legendtext, font=\lettering\bfseries\fontsize{9}{8.6}\selectfont] (stmodt) at (1448,960) {ORIGINALLY APPOINTED\\BY THE MODERATOR};
\statusdome{stvar}{1415,995}{20}{V}
\node[legendtext, font=\lettering\bfseries\fontsize{9}{9}\selectfont] (stvart) at (1437,988) {-NO\hspace{0.15cm}CHOSEN\hspace{0.15cm}VARIES};
\statusdome{stcivil}{1415,1018}{20}{CS}
\node[legendtext, font=\lettering\bfseries\fontsize{9}{9}\selectfont] (stcivilt) at (1437,1008) {-CIVIL\hspace{0.1cm}SERVICE\hspace{0.15cm}STATUS};
\statusdome{stcourt}{1415,1043}{20}{SC}
\node[legendtext, font=\lettering\bfseries\fontsize{9}{9}\selectfont] (stcourtt) at (1437,1034) {-SUP COURT RULING {\fontsize{6.5}{6.5}\selectfont\raisebox{0.6ex}{2}/26/\raisebox{-0.6ex}{31}}};
\statusdome{stco}{1415,1070}{20}{CO}
\node[legendtext, font=\lettering\bfseries\fontsize{9}{9}\selectfont] (stcot) at (1437,1060) {- CHOSEN BY CO MEMBERS};
\termdome{tmone}{1650,845}{20}{1}
\node[legendtext] (tmonet) at (1673,859) {= 1 YEAR\hspace{0.2cm}TERM};
\termdome{tmtwo}{1650,872}{20}{2}
\node[legendtext] (tmtwot) at (1673,884) {= 2 YEAR\hspace{0.2cm}TERM};
\termdome{tmthree}{1650,893}{20}{3}
\node[legendtext] (tmthreet) at (1673,907) {= 3 YEAR\hspace{0.2cm}TERM};
\termdome{tmrot}{1650,945}{21}{3 R}
\node[legendtext] (tmroteq) at (1672,957) {=};
\node[inner sep=0pt, font=\fontsize{24}{24}\selectfont] (tmrotbrace) at (1684,957) {\{};
\node[legendtext, font=\lettering\bfseries\fontsize{9.5}{8.6}\selectfont] (tmrott) at (1692,957) {3\hspace{0.3cm}YEAR\\ROTATING\\\hspace{0.2cm}TERMS};
\termdome{tmperp}{1650,997}{20}{P}
\node[legendtext] (tmperpt) at (1673,1008) {= PERPETUATING};
\termdome{tmex}{1650,1022}{20}{X}
\node[legendtext] (tmext) at (1673,1035) {- EX - OFFICIO};
\termdome{tmneed}{1650,1048}{20}{N}
\node[legendtext] (tmneedt) at (1673,1061) {= AS\hspace{0.3cm}NEEDED};
\node[anchor=west, inner sep=0pt, font=\itshape\fontsize{11}{11}\selectfont] (drawn) at (1443,1143) {DRAWN\hspace{0.2cm}BY\hspace{0.2cm}E\hspace{0.2cm}LEON\hspace{0.3cm}CADIGON};
\end{tikzpicture}
\end{document}
